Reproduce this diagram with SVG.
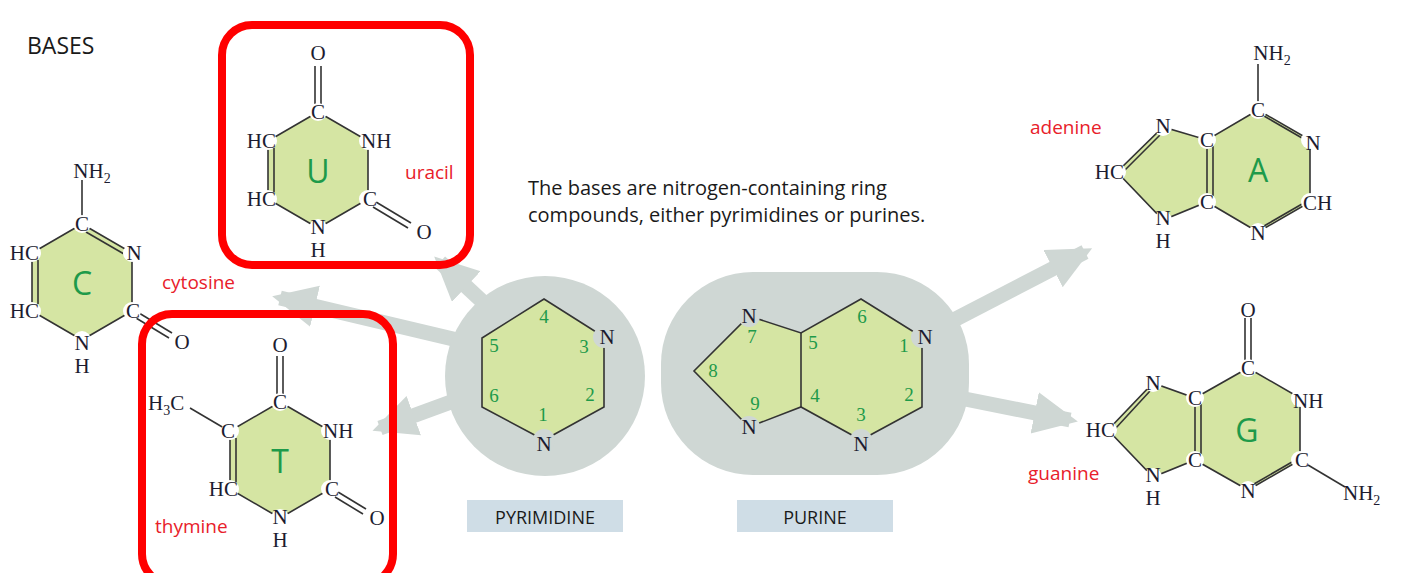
<svg xmlns="http://www.w3.org/2000/svg" width="1401" height="573" viewBox="0 0 1401 573">
<style>
.ring{fill:#d5e5a3;stroke:#333;stroke-width:1.6}
.b{stroke:#333;stroke-width:1.6;fill:none}
.dot{fill:#fff}
.at{font-family:'Liberation Serif',serif;font-size:21px;fill:#1c1c30}
.big{font-family:'Open Sans',sans-serif;font-size:32px;fill:#1e9a4a;text-anchor:middle}
.name{font-family:'Open Sans',sans-serif;font-size:19px;fill:#e8202a}
.num{font-family:'Liberation Serif',serif;font-size:19px;fill:#1e9a4a}
.c{text-anchor:middle}.e{text-anchor:end}
.sub{font-size:14px}
.hd{font-family:'Open Sans',sans-serif;fill:#1a1a1a}
.gr{fill:#cfd7d4}
.arr{stroke:#cfd7d4;stroke-width:15;fill:none}
.box{fill:none;stroke:#ff0000;stroke-width:8}
.lab{fill:#cfdde6}
</style>
<defs>
<marker id="ah" markerUnits="userSpaceOnUse" markerWidth="50" markerHeight="50" refX="36" refY="21" orient="auto"><path d="M0,0 L44,21 L0,42 Z" fill="#cfd7d4"/></marker>
</defs>
<text class="hd" x="27" y="54" font-size="23" font-weight="500">BASES</text>
<text class="hd" x="528" y="195" font-size="20">The bases are nitrogen-containing ring</text>
<text class="hd" x="528" y="222" font-size="20">compounds, either pyrimidines or purines.</text>

<g id="connectors">
<line class="arr" x1="500" y1="318" x2="440" y2="262" marker-end="url(#ah)"/>
<line class="arr" x1="470" y1="343" x2="280" y2="298" marker-end="url(#ah)"/>
<line class="arr" x1="470" y1="395" x2="380" y2="428" marker-end="url(#ah)"/>
<line class="arr" x1="950" y1="322" x2="1085" y2="252" marker-end="url(#ah)"/>
<line class="arr" x1="960" y1="398" x2="1070" y2="420" marker-end="url(#ah)"/>
</g>

<g id="pyrimidine">
<circle class="gr" cx="545" cy="376" r="100"/>
<polygon class="ring" points="544,299 604,337 604,407 544,440 482,407 482,338"/>
<circle fill="#cfd7d4" cx="604" cy="337" r="11"/><circle fill="#cfd7d4" cx="544" cy="440" r="11"/>
<text class="at c" x="607" y="344">N</text><text class="at c" x="544" y="451">N</text>
<text class="num c" x="544" y="323">4</text><text class="num c" x="584" y="353">3</text>
<text class="num c" x="590" y="401">2</text><text class="num c" x="543" y="421">1</text>
<text class="num c" x="494" y="402">6</text><text class="num c" x="494" y="352">5</text>
</g>
<g id="pyrimidine-label"><rect class="lab" x="467" y="500" width="156" height="32"/><text class="hd" x="545" y="524" font-size="18" text-anchor="middle">PYRIMIDINE</text></g>

<g id="purine">
<rect class="gr" x="661" y="272" width="308" height="203" rx="92"/>
<polygon class="ring" points="749,316 801,333 861,299 922,337 922,407 861,440 801,407 749,427 694,371"/>
<line class="b" x1="801" y1="333" x2="801" y2="407"/>
<g fill="#cfd7d4"><circle cx="749" cy="316" r="11"/><circle cx="749" cy="427" r="11"/><circle cx="922" cy="337" r="11"/><circle cx="861" cy="440" r="11"/></g>
<text class="at c" x="749" y="323">N</text><text class="at c" x="749" y="434">N</text><text class="at c" x="925" y="344">N</text><text class="at c" x="861" y="451">N</text>
<text class="num c" x="752" y="343">7</text><text class="num c" x="713" y="377">8</text><text class="num c" x="755" y="410">9</text>
<text class="num c" x="813" y="349">5</text><text class="num c" x="815" y="402">4</text><text class="num c" x="862" y="323">6</text>
<text class="num c" x="904" y="352">1</text><text class="num c" x="909" y="401">2</text><text class="num c" x="861" y="421">3</text>
</g>
<g id="purine-label"><rect class="lab" x="737" y="500" width="156" height="32"/><text class="hd" x="815" y="524" font-size="18" text-anchor="middle">PURINE</text></g>

<g id="cytosine">
<polygon class="ring" points="82,224 132,253 132,311 82,340 32,311 32,253"/>
<line class="b" x1="82" y1="180" x2="82" y2="216"/>
<line class="b" x1="86" y1="232" x2="124" y2="254"/>
<line class="b" x1="38" y1="260" x2="38" y2="304"/>
<line class="b" x1="139" y1="313" x2="172" y2="333"/><line class="b" x1="136" y1="318" x2="169" y2="338"/>
<g class="dot"><circle cx="82" cy="224" r="9"/><circle cx="132" cy="253" r="9"/><circle cx="132" cy="311" r="9"/><circle cx="82" cy="340" r="9"/><circle cx="32" cy="311" r="9"/><circle cx="32" cy="253" r="9"/></g>
<text class="at c" x="92" y="178">NH<tspan class="sub" dy="5">2</tspan></text>
<text class="at c" x="82" y="231">C</text><text class="at c" x="134" y="260">N</text><text class="at c" x="133" y="318">C</text>
<text class="at c" x="82" y="350">N</text><text class="at c" x="82" y="373">H</text>
<text class="at e" x="39" y="318">HC</text><text class="at e" x="39" y="260">HC</text>
<text class="at c" x="182" y="349">O</text>
<text class="big" x="82" y="295">C</text>
<text class="name" x="162" y="289">cytosine</text>
</g>

<g id="uracil">
<rect class="box" x="222" y="25" width="248" height="240" rx="30"/>
<polygon class="ring" points="318,112 368,141 368,199 318,228 268,199 268,141"/>
<line class="b" x1="315" y1="66" x2="315" y2="104"/><line class="b" x1="321" y1="66" x2="321" y2="104"/>
<line class="b" x1="274" y1="148" x2="274" y2="192"/>
<line class="b" x1="376" y1="202" x2="411" y2="223"/><line class="b" x1="373" y1="207" x2="408" y2="228"/>
<g class="dot"><circle cx="318" cy="112" r="9"/><circle cx="368" cy="141" r="9"/><circle cx="368" cy="199" r="9"/><circle cx="318" cy="228" r="9"/><circle cx="268" cy="199" r="9"/><circle cx="268" cy="141" r="9"/></g>
<text class="at c" x="318" y="60">O</text>
<text class="at c" x="318" y="119">C</text><text class="at" x="361" y="148">NH</text><text class="at c" x="370" y="206">C</text>
<text class="at c" x="318" y="234">N</text><text class="at c" x="318" y="257">H</text>
<text class="at e" x="276" y="148">HC</text><text class="at e" x="276" y="206">HC</text>
<text class="at c" x="424" y="239">O</text>
<text class="big" x="318" y="183">U</text>
<text class="name" x="405" y="179">uracil</text>
</g>

<g id="thymine">
<rect class="box" x="142" y="314" width="251" height="270" rx="30"/>
<polygon class="ring" points="280,402 330,431 330,489 280,518 230,489 230,431"/>
<line class="b" x1="277" y1="356" x2="277" y2="394"/><line class="b" x1="283" y1="356" x2="283" y2="394"/>
<line class="b" x1="190" y1="408" x2="224" y2="428"/>
<line class="b" x1="236" y1="438" x2="236" y2="482"/>
<line class="b" x1="338" y1="492" x2="366" y2="509"/><line class="b" x1="335" y1="497" x2="363" y2="514"/>
<g class="dot"><circle cx="280" cy="402" r="9"/><circle cx="330" cy="431" r="9"/><circle cx="330" cy="489" r="9"/><circle cx="280" cy="518" r="9"/><circle cx="230" cy="489" r="9"/><circle cx="230" cy="431" r="9"/></g>
<text class="at c" x="280" y="352">O</text>
<text class="at" x="148" y="410">H<tspan class="sub" dy="5">3</tspan><tspan dy="-5">C</tspan></text>
<text class="at c" x="280" y="409">C</text><text class="at c" x="228" y="438">C</text><text class="at" x="323" y="438">NH</text><text class="at c" x="332" y="496">C</text>
<text class="at c" x="280" y="524">N</text><text class="at c" x="280" y="547">H</text>
<text class="at e" x="238" y="496">HC</text>
<text class="at c" x="377" y="525">O</text>
<text class="big" x="280" y="473">T</text>
<text class="name" x="155" y="533">thymine</text>
</g>

<g id="adenine">
<polygon class="ring" points="1258,110 1310,140 1310,202 1258,232 1207,202 1163,220 1117,172 1163,127 1207,140"/>
<line class="b" x1="1207" y1="140" x2="1207" y2="202"/>
<line class="b" x1="1213" y1="146" x2="1213" y2="196"/>
<line class="b" x1="1258" y1="64" x2="1258" y2="102"/>
<line class="b" x1="1264" y1="116" x2="1302" y2="138"/>
<line class="b" x1="1264" y1="226" x2="1302" y2="204"/>
<line class="b" x1="1124" y1="171" x2="1160" y2="135"/>
<g class="dot"><circle cx="1258" cy="110" r="9"/><circle cx="1310" cy="140" r="9"/><circle cx="1310" cy="202" r="9"/><circle cx="1258" cy="232" r="9"/><circle cx="1207" cy="202" r="9"/><circle cx="1163" cy="220" r="9"/><circle cx="1117" cy="172" r="9"/><circle cx="1163" cy="127" r="9"/><circle cx="1207" cy="140" r="9"/></g>
<text class="at c" x="1272" y="60">NH<tspan class="sub" dy="5">2</tspan></text>
<text class="at c" x="1258" y="117">C</text><text class="at c" x="1313" y="150">N</text><text class="at" x="1303" y="210">CH</text>
<text class="at c" x="1258" y="240">N</text><text class="at c" x="1207" y="209">C</text><text class="at c" x="1207" y="147">C</text>
<text class="at c" x="1163" y="133">N</text><text class="at e" x="1124" y="179">HC</text>
<text class="at c" x="1163" y="225">N</text><text class="at c" x="1163" y="248">H</text>
<text class="big" x="1258" y="182">A</text>
<text class="name" x="1030" y="134">adenine</text>
</g>

<g id="guanine">
<polygon class="ring" points="1248,368 1300,398 1300,460 1248,490 1195,460 1153,477 1108,430 1153,383 1195,398"/>
<line class="b" x1="1195" y1="398" x2="1195" y2="460"/>
<line class="b" x1="1201" y1="404" x2="1201" y2="454"/>
<line class="b" x1="1245" y1="318" x2="1245" y2="360"/><line class="b" x1="1251" y1="318" x2="1251" y2="360"/>
<line class="b" x1="1254" y1="484" x2="1292" y2="462"/>
<line class="b" x1="1115" y1="429" x2="1150" y2="391"/>
<line class="b" x1="1308" y1="465" x2="1345" y2="487"/>
<g class="dot"><circle cx="1248" cy="368" r="9"/><circle cx="1300" cy="398" r="9"/><circle cx="1300" cy="460" r="9"/><circle cx="1248" cy="490" r="9"/><circle cx="1195" cy="460" r="9"/><circle cx="1153" cy="477" r="9"/><circle cx="1108" cy="430" r="9"/><circle cx="1153" cy="383" r="9"/><circle cx="1195" cy="398" r="9"/></g>
<text class="at c" x="1248" y="317">O</text>
<text class="at c" x="1248" y="375">C</text><text class="at" x="1293" y="408">NH</text><text class="at c" x="1302" y="467">C</text>
<text class="at c" x="1248" y="498">N</text><text class="at c" x="1195" y="467">C</text><text class="at c" x="1195" y="405">C</text>
<text class="at c" x="1153" y="390">N</text><text class="at e" x="1115" y="437">HC</text>
<text class="at c" x="1153" y="482">N</text><text class="at c" x="1153" y="505">H</text>
<text class="at" x="1343" y="500">NH<tspan class="sub" dy="5">2</tspan></text>
<text class="big" x="1247" y="442">G</text>
<text class="name" x="1028" y="480">guanine</text>
</g>
</svg>
